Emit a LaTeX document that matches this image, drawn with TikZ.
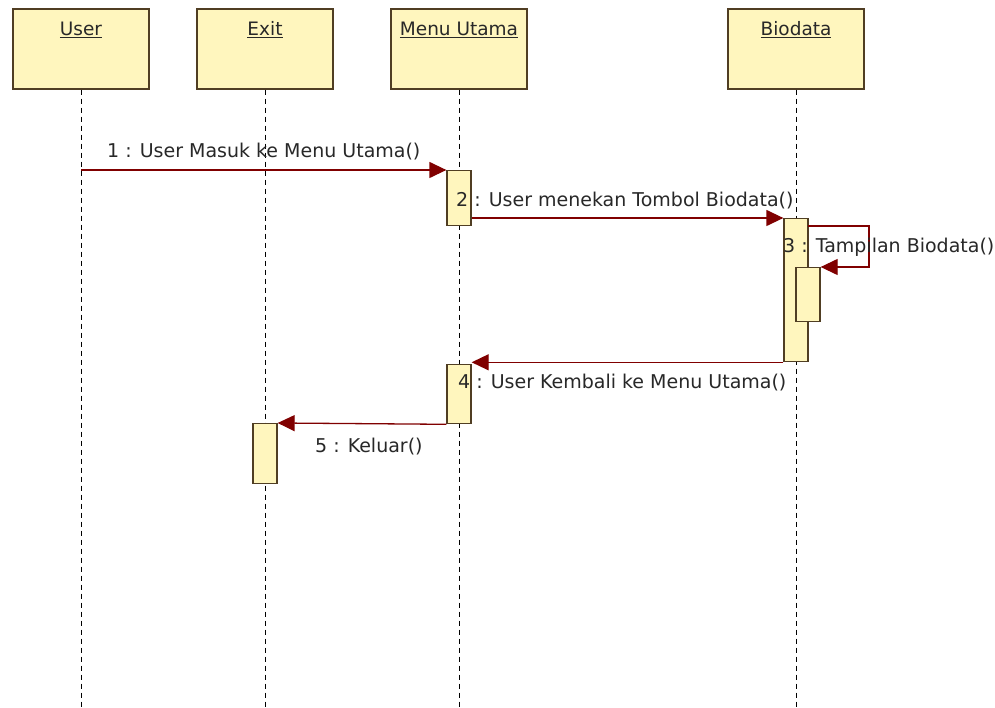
\documentclass[tikz,border=0pt]{standalone}
\usepackage{fontspec}
\setmainfont{DejaVu Sans}
\usetikzlibrary{arrows.meta}
\definecolor{boxfill}{RGB}{255,246,190}
\definecolor{boxline}{RGB}{80,62,35}
\definecolor{msgred}{RGB}{128,0,0}
\definecolor{txt}{RGB}{40,40,40}
\begin{document}
\begin{tikzpicture}[x=1pt,y=-1pt,
  objbox/.style={draw=boxline, line width=1.3pt, fill=boxfill, minimum width=136pt, minimum height=80pt, inner sep=0pt},
  titletext/.style={font=\fontsize{18.5}{20}\selectfont, text=txt, anchor=base, inner sep=0pt},
  lifeline/.style={draw=black, line width=1pt, dash pattern=on 5pt off 4pt},
  act/.style={draw=boxline, line width=1.3pt, fill=boxfill, minimum width=24pt, inner sep=0pt, anchor=north},
  msg/.style={draw=msgred, line width=1.3pt, -{Triangle[length=17pt,width=16pt]}},
  msgtext/.style={font=\fontsize{19}{21}\selectfont, text=txt, anchor=base west, inner sep=0pt}]
\useasboundingbox (0,0) rectangle (995,708);
\fill[white] (0,0) rectangle (995,708);
% object boxes
\node[objbox] (user) at (81,49) {};
\node[objbox] (exit) at (265,49) {};
\node[objbox] (menu) at (459,49) {};
\node[objbox] (bio)  at (796,49) {};
\node[titletext] (userl) at (81,36) {\underline{User}};
\node[titletext] (exitl) at (265,36) {\underline{Exit}};
\node[titletext] (menul) at (459,36) {\underline{Menu Utama}};
\node[titletext] (biol)  at (796,36) {\underline{Biodata}};
% lifeline ends
\coordinate (ue) at (81,708);
\coordinate (ee) at (265,708);
\coordinate (me) at (459,708);
\coordinate (be) at (796,708);
\draw[lifeline] (user.south) -- (ue);
\draw[lifeline] (exit.south) -- (ee);
\draw[lifeline] (menu.south) -- (me);
\draw[lifeline] (bio.south) -- (be);
% activations
\node[act, minimum height=55pt] (m1) at (459,170) {};
\node[act, minimum height=143pt] (b1) at (796,218) {};
\node[act, minimum height=54pt] (b2) at (808,267) {};
\node[act, minimum height=59pt] (m2) at (459,364) {};
\node[act, minimum height=60pt] (e1) at (265,423) {};
% messages
\coordinate (u1) at (81,170);
\draw[msg] (u1) -- (m1.north west);
\draw[msg] (b1.north west -| m1.east) -- (b1.north west);
\coordinate (s1) at (808,226);
\coordinate (s2) at (869,226);
\draw[msg] (s1) -- (s2) |- (b2.north east);
\draw[msg] (b1.south west) -- (b1.south west -| m2.east);
\draw[msg] (m2.south west) -- (e1.north east);
% labels
\node[msgtext] (t1) at (107,158) {1 : User Masuk ke Menu Utama()};
\node[msgtext] (t2) at (456,207) {2 : User menekan Tombol Biodata()};
\node[msgtext] (t3) at (783,253) {3 : Tampilan Biodata()};
\node[msgtext] (t4) at (458,388) {4 : User Kembali ke Menu Utama()};
\node[msgtext] (t5) at (315,452) {5 : Keluar()};
\end{tikzpicture}
\end{document}
